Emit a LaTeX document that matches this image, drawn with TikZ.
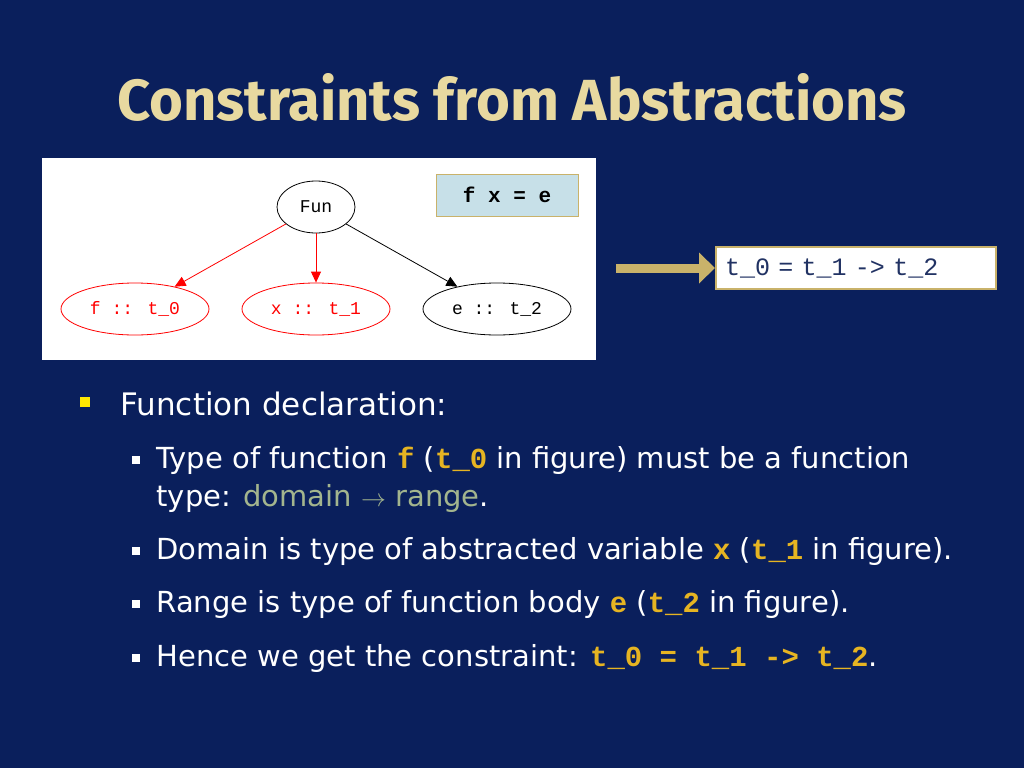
\documentclass[tikz,border=0pt]{standalone}
\usepackage{fontspec}
\setmainfont{DejaVu Sans}
\newfontfamily\titlefont{Fira Sans}
\newfontfamily\codefont{Liberation Mono}
\newfontfamily\graphfont{Liberation Mono}
\usetikzlibrary{positioning,arrows.meta,shapes.geometric}
\definecolor{slidebg}{HTML}{0A1F5C}
\definecolor{titletan}{HTML}{E8D9A0}
\definecolor{codegold}{HTML}{E6B422}
\definecolor{domgreen}{HTML}{A3B58E}
\definecolor{boxblue}{HTML}{C7E0E8}
\definecolor{arrowtan}{HTML}{C9B26A}
\tikzset{gnode/.style={ellipse,draw,thick,minimum width=78pt,minimum height=52pt,inner sep=0pt,font=\fontsize{18}{18}\selectfont\graphfont}}
\tikzset{item/.style={anchor=west,text=white,font=\fontsize{29}{38}\selectfont,align=left}}
\tikzset{sq/.style={fill=white,minimum size=8pt,inner sep=0pt}}
\newcommand{\cd}[1]{{\codefont\bfseries\color{codegold}#1}}
\begin{document}
\begin{tikzpicture}[x=1pt,y=-1pt]
  \fill[slidebg] (0,0) rectangle (1024,768);
  \useasboundingbox (0,0) rectangle (1024,768);
  % title
  \node[text=titletan,font=\fontsize{58}{58}\selectfont\titlefont\bfseries] (title) at (512,97) {Constraints from Abstractions};
  % graph picture
  \fill[white] (42,158) rectangle (596,360);
  \node[gnode] (fun) at (316,207) {Fun};
  \node[gnode,red,minimum width=148pt] (f) at (135,309) {f :: t\_0};
  \node[gnode,red,minimum width=148pt] (x) at (316,309) {x :: t\_1};
  \node[gnode,minimum width=148pt] (e) at (497,309) {e :: t\_2};
  \draw[red,thick,-{Triangle[length=11pt,width=10pt]}] (fun) -- (f);
  \draw[red,thick,-{Triangle[length=11pt,width=10pt]}] (fun) -- (x);
  \draw[thick,-{Triangle[length=11pt,width=10pt]}] (fun) -- (e);
  \node[draw=arrowtan,fill=boxblue,minimum width=142pt,minimum height=42pt,font=\fontsize{21}{21}\selectfont\codefont\bfseries] (fxe) at (507,195) {f x = e};
  % result
  \node[draw=arrowtan,line width=2pt,fill=white,minimum height=42pt,inner xsep=9pt,text width=262pt,font=\fontsize{25}{25}\selectfont\codefont,text=slidebg!80!gray] (res) at (856,268) {t\_0 = t\_1 -> t\_2};
  \coordinate (arrS) at (616,268);
  \draw[arrowtan,line width=9pt,-{Triangle[length=16pt,width=30pt]}] (arrS) -- (res.west);
  % bullets
  \node[fill=yellow!90!orange,minimum size=10pt,inner sep=0pt] (b0) at (85,402) {};
  \node[item,font=\fontsize{31}{36}\selectfont] (t0) at (117,404) {Function declaration:};
  \node[sq] (b1) at (136,460) {};
  \node[item] (t1) at (153,479) {Type of function \cd{f} (\cd{t\_0} in figure) must be a function\\type: {\color{domgreen}domain $\rightarrow$ range}.};
  \node[sq] (b2) at (136,551) {};
  \node[item] (t2) at (153,551) {Domain is type of abstracted variable \cd{x} (\cd{t\_1} in figure).};
  \node[sq] (b3) at (136,604) {};
  \node[item] (t3) at (153,604) {Range is type of function body \cd{e} (\cd{t\_2} in figure).};
  \node[sq] (b4) at (136,658) {};
  \node[item] (t4) at (153,658) {Hence we get the constraint: \cd{t\_0 = t\_1 -> t\_2}.};
\end{tikzpicture}
\end{document}
